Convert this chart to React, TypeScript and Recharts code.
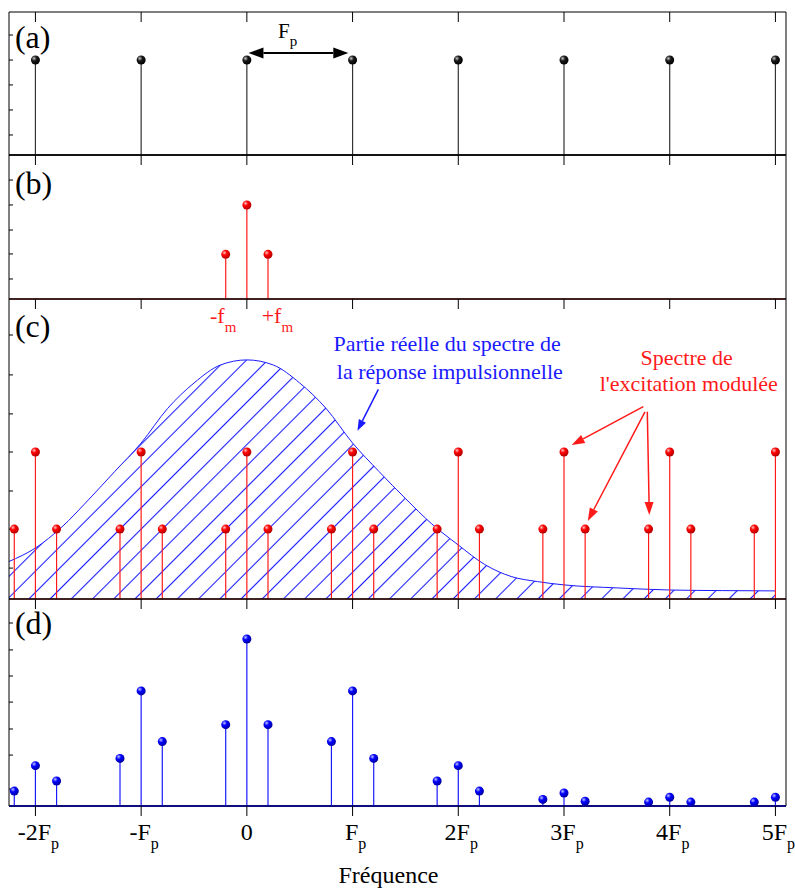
import React from "react";
import { Area, ComposedChart, Label, ReferenceDot, ReferenceLine, Scatter, XAxis, YAxis } from "recharts";

const FONT = '"Liberation Serif", "Times New Roman", Times, serif';
const WIDTH = 795;
const X_DOMAIN: [number, number] = [-2.25, 5.1];

// axe des fréquences (en unités de Fp)
const xTicks = [-2, -1, 0, 1, 2, 3, 4, 5];
const xTickMain = ["-2F", "-F", "0", "F", "2F", "3F", "4F", "5F"];
const xTickSub = ["p", "p", "", "p", "p", "p", "p", "p"];

// (a) peigne d'excitation
const combX = [-2, -1, 0, 1, 2, 3, 4, 5];
const combY = [0.664, 0.664, 0.664, 0.664, 0.664, 0.664, 0.664, 0.664];

// (b) modulation
const modX = [-0.2, 0, 0.2];
const modY = [0.31, 0.653, 0.31];

// (c) excitation modulée
const excX = [-2.2, -2, -1.8, -1.2, -1, -0.8, -0.2, 0, 0.2, 0.8, 1, 1.2, 1.8, 2, 2.2, 2.8, 3, 3.2, 3.8, 4, 4.2, 4.8, 5];
const excY = [0.233, 0.49, 0.233, 0.233, 0.49, 0.233, 0.233, 0.49, 0.233, 0.233, 0.49, 0.233, 0.233, 0.49, 0.233, 0.233, 0.49, 0.233, 0.233, 0.49, 0.233, 0.233, 0.49];

// (c) partie réelle de la réponse impulsionnelle
const respX = [-2.25, -2, -1.75, -1.5, -1.25, -1, -0.75, -0.5, -0.25, 0, 0.25, 0.5, 0.75, 1, 1.25, 1.5, 1.75, 2, 2.25, 2.5, 2.75, 3, 3.5, 4, 4.5, 5];
const respY = [0.125, 0.17, 0.24, 0.33, 0.425, 0.52, 0.635, 0.72, 0.78, 0.797, 0.78, 0.72, 0.635, 0.52, 0.425, 0.335, 0.25, 0.18, 0.115, 0.075, 0.058, 0.047, 0.037, 0.03, 0.028, 0.027];

// (d) spectre de sortie (mêmes fréquences que excX)
const outY = [0.072, 0.195, 0.121, 0.23, 0.556, 0.311, 0.393, 0.807, 0.393, 0.311, 0.556, 0.23, 0.121, 0.195, 0.072, 0.032, 0.063, 0.023, 0.019, 0.042, 0.019, 0.019, 0.042];

// graduations mineures de l'axe vertical
const yTicksA = [0.14, 0.315, 0.49, 0.664, 0.839];
const yTicksB = [0.139, 0.313, 0.479, 0.653, 0.826];
const yTicksC = [0.103, 0.233, 0.36, 0.49, 0.617, 0.747, 0.88];
const yTicksD = [0.082, 0.246, 0.372, 0.502, 0.628, 0.754, 0.884];

const zip = (xs: number[], ys: number[]) => xs.map((x, i) => ({ x, y: ys[i] }));
const noLabel = () => "";

const ball = (id: string) => (p: any) => <circle cx={p.cx} cy={p.cy} r={4.5} fill={`url(#${id})`} />;

const stems = (xs: number[], ys: number[], color: string, prefix: string) =>
  xs.map((x, i) => (
    <ReferenceLine
      key={`${prefix}-${i}`}
      segment={[{ x, y: 0 }, { x, y: ys[i] }]}
      stroke={color}
      strokeWidth={1.2}
    />
  ));

const arrowShape = (color: string, head: number, half: number, both: boolean, width: number) => (p: any) => {
  const { x1, y1, x2, y2 } = p;
  const len = Math.hypot(x2 - x1, y2 - y1) || 1;
  const ux = (x2 - x1) / len;
  const uy = (y2 - y1) / len;
  const nx = -uy;
  const ny = ux;
  const bx = x2 - ux * head;
  const by = y2 - uy * head;
  const ax = x1 + ux * head;
  const ay = y1 + uy * head;
  return (
    <g>
      <line x1={both ? ax : x1} y1={both ? ay : y1} x2={bx} y2={by} stroke={color} strokeWidth={width} />
      <polygon points={`${x2},${y2} ${bx + nx * half},${by + ny * half} ${bx - nx * half},${by - ny * half}`} fill={color} />
      {both ? (
        <polygon points={`${x1},${y1} ${ax + nx * half},${ay + ny * half} ${ax - nx * half},${ay - ny * half}`} fill={color} />
      ) : null}
    </g>
  );
};

const arrow = (key: string, x1: number, y1: number, x2: number, y2: number, color: string, head = 13, half = 4.5, both = false, width = 1.5) => (
  <ReferenceLine
    key={key}
    segment={[{ x: x1, y: y1 }, { x: x2, y: y2 }]}
    ifOverflow="visible"
    shape={arrowShape(color, head, half, both, width)}
  />
);

const note = (key: string, x: number, y: number, main: string, sub: string, color: string, size: number, anchor = "middle", subSize = 15, subDy = 9) => (
  <ReferenceDot
    key={key}
    x={x}
    y={y}
    r={1}
    ifOverflow="visible"
    shape={(p: any) => (
      <text x={p.cx} y={p.cy} fill={color} fontSize={size} fontFamily={FONT} textAnchor={anchor}>
        {main}
        {sub ? (
          <tspan dy={subDy} fontSize={subSize}>
            {sub}
          </tspan>
        ) : null}
      </text>
    )}
  />
);

const renderXTick = (p: any) => {
  const i = xTicks.indexOf(p.payload.value);
  const sub = xTickSub[i];
  return (
    <text x={p.x + (sub ? 3 : 0)} y={p.y + 22} textAnchor="middle" fontSize={24} fontFamily={FONT} fill="#000">
      {xTickMain[i]}
      {sub ? (
        <tspan dy={9} fontSize={16}>
          {sub}
        </tspan>
      ) : null}
    </text>
  );
};

interface IPanelProps {
  top: number;
  plotHeight: number;
  yTicks: number[];
  data: { x: number; y: number }[];
  last?: boolean;
  children: React.ReactNode;
}

const Panel = ({ top, plotHeight, yTicks, data, last, children }: IPanelProps) => {
  const axisH = last ? 82 : 0;
  return (
    <div style={{ position: "absolute", left: 0, top }}>
      <ComposedChart width={WIDTH} height={plotHeight + axisH} data={data} margin={{ top: 0, right: 9, bottom: 0, left: 9 }}>
        {last ? (
          <XAxis
            dataKey="x"
            type="number"
            domain={X_DOMAIN}
            ticks={xTicks}
            interval={0}
            allowDataOverflow
            stroke="#000"
            tickSize={10}
            height={82}
            tick={renderXTick}
          >
            <Label
              position="insideBottom"
              content={(p: any) => {
                const vb = p.viewBox;
                return (
                  <text x={vb.x + vb.width / 2 - 9} y={vb.y + vb.height - 5} textAnchor="middle" fontSize={24} fontFamily={FONT} fill="#000">
                    Fréquence
                  </text>
                );
              }}
            />
          </XAxis>
        ) : (
          <XAxis dataKey="x" type="number" domain={X_DOMAIN} ticks={xTicks} allowDataOverflow mirror tickFormatter={noLabel} tickLine={false} stroke="#000" />
        )}
        <XAxis
          xAxisId="top"
          dataKey="x"
          orientation="top"
          mirror
          type="number"
          domain={X_DOMAIN}
          ticks={xTicks}
          interval={0}
          allowDataOverflow
          tickFormatter={noLabel}
          tickSize={10}
          stroke="#000"
        />
        <YAxis type="number" domain={[0, 1]} ticks={yTicks} interval={0} mirror tickFormatter={noLabel} tickSize={4} stroke="#000" />
        <YAxis yAxisId="right" orientation="right" type="number" domain={[0, 1]} ticks={yTicks} interval={0} mirror tickFormatter={noLabel} tickSize={4} stroke="#000" />
        {children}
      </ComposedChart>
    </div>
  );
};

const App = () => {
  const red = "#ff1a1a";
  const blue = "#1a1aff";
  return (
    <div style={{ position: "absolute", left: 0, top: 0, width: WIDTH, height: 888, background: "#fff", fontFamily: FONT }}>
      <style>{`.recharts-surface{overflow:visible}`}</style>
      <svg width={0} height={0} style={{ position: "absolute" }}>
        <defs>
          <pattern id="hatch" patternUnits="userSpaceOnUse" width={15} height={15} patternTransform="rotate(45)">
            <line x1={7.5} y1={0} x2={7.5} y2={15} stroke={blue} strokeWidth={1.1} />
          </pattern>
          <radialGradient id="ballBlack" cx="35%" cy="32%" r="70%">
            <stop offset="0%" stopColor="#c8c8c8" />
            <stop offset="40%" stopColor="#1a1a1a" />
            <stop offset="100%" stopColor="#000" />
          </radialGradient>
          <radialGradient id="ballRed" cx="35%" cy="32%" r="70%">
            <stop offset="0%" stopColor="#ffc0c0" />
            <stop offset="40%" stopColor="#ff0000" />
            <stop offset="100%" stopColor="#b00000" />
          </radialGradient>
          <radialGradient id="ballBlue" cx="35%" cy="32%" r="70%">
            <stop offset="0%" stopColor="#c0c0ff" />
            <stop offset="40%" stopColor="#0000ff" />
            <stop offset="100%" stopColor="#0000a0" />
          </radialGradient>
        </defs>
      </svg>

      <Panel top={12} plotHeight={143} yTicks={yTicksA} data={zip(combX, combY)}>
        <ReferenceLine y={0} stroke="#555" strokeWidth={2} />
        {stems(combX, combY, "#333", "a")}
        <Scatter dataKey="y" shape={ball("ballBlack")} isAnimationActive={false} />
        {arrow("fp", 0.015, 0.713, 0.96, 0.713, "#000", 15, 5.5, true, 2)}
        {note("fpLabel", 0.386, 0.816, "F", "p", "#000", 21, "middle", 15, 8)}
        {note("la", -2.194, 0.748, "(a)", "", "#000", 32, "start")}
      </Panel>

      <Panel top={155} plotHeight={144} yTicks={yTicksB} data={zip(modX, modY)}>
        <ReferenceLine y={0} stroke={red} strokeWidth={1.2} />
        {stems(modX, modY, red, "b")}
        <Scatter dataKey="y" shape={ball("ballRed")} isAnimationActive={false} />
        {note("lb", -2.194, 0.729, "(b)", "", "#000", 32, "start")}
      </Panel>

      <Panel top={299} plotHeight={300} yTicks={yTicksC} data={zip(respX, respY)}>
        <Area type="monotone" dataKey="y" stroke={blue} strokeWidth={1} fill="url(#hatch)" fillOpacity={1} dot={false} activeDot={false} isAnimationActive={false} />
        <ReferenceLine y={0} stroke={red} strokeWidth={1.2} />
        {stems(excX, excY, red, "c")}
        <Scatter data={zip(excX, excY)} dataKey="y" shape={ball("ballRed")} isAnimationActive={false} />
        {note("lc", -2.194, 0.873, "(c)", "", "#000", 32, "start")}
        {note("mfm", -0.224, 0.92, "-f", "m", red, 22)}
        {note("pfm", 0.289, 0.92, "+f", "m", red, 22)}
        {note("resp1", 1.895, 0.827, "Partie réelle du spectre de", "", blue, 22)}
        {note("resp2", 1.92, 0.733, "la réponse impulsionnelle", "", blue, 22)}
        {arrow("respArrow", 1.244, 0.699, 1.046, 0.561, blue, 11, 4)}
        {note("exc1", 4.16, 0.78, "Spectre de", "", red, 22)}
        {note("exc2", 4.18, 0.693, "l'excitation modulée", "", red, 22)}
        {arrow("excArrow1", 3.75, 0.641, 3.073, 0.513, red)}
        {arrow("excArrow2", 3.766, 0.624, 3.225, 0.26, red)}
        {arrow("excArrow3", 3.788, 0.624, 3.807, 0.28, red)}
      </Panel>

      <Panel top={599} plotHeight={207} yTicks={yTicksD} data={zip(excX, outY)} last>
        <ReferenceLine y={0} stroke={blue} strokeWidth={2} />
        {stems(excX, outY, blue, "d")}
        <Scatter dataKey="y" shape={ball("ballBlue")} isAnimationActive={false} />
        {note("ld", -2.194, 0.831, "(d)", "", "#000", 32, "start")}
      </Panel>
    </div>
  );
};

export default App;
